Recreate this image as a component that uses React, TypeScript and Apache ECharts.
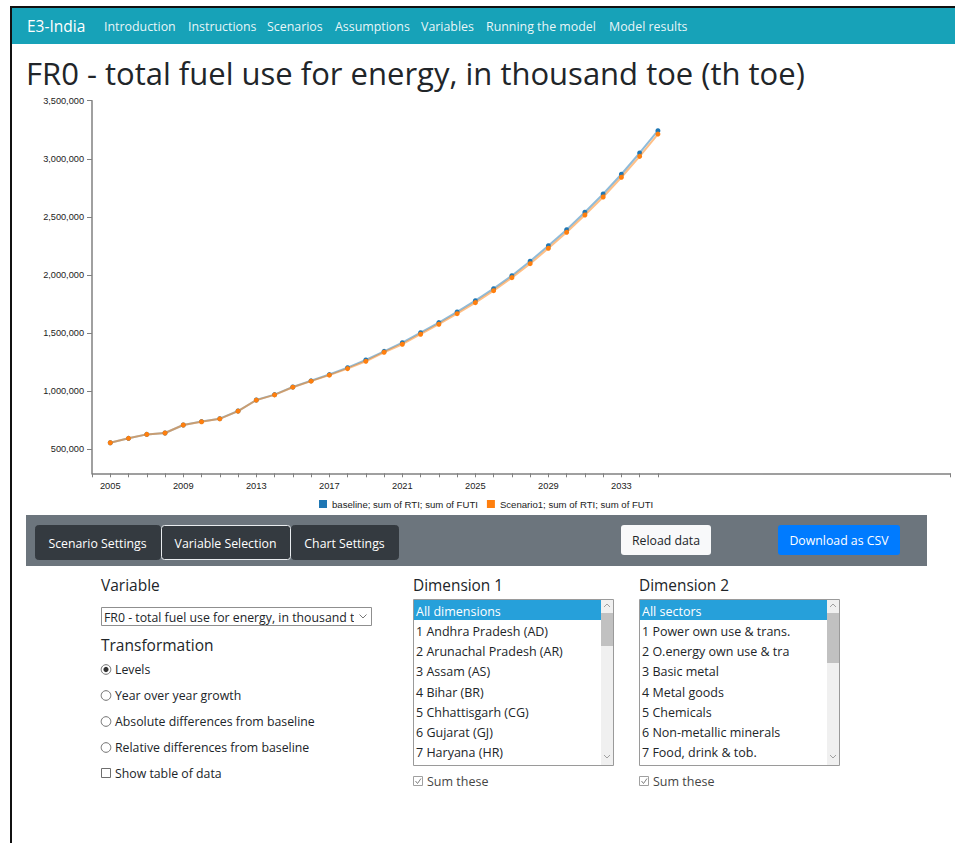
import React, { useEffect, useRef } from "react";
import * as echarts from "echarts";

// ---------- data ----------
const years = [
  2005, 2006, 2007, 2008, 2009, 2010, 2011, 2012, 2013, 2014, 2015, 2016,
  2017, 2018, 2019, 2020, 2021, 2022, 2023, 2024, 2025, 2026, 2027, 2028,
  2029, 2030, 2031, 2032, 2033, 2034, 2035,
];
const baseline = [
  556000, 594000, 628000, 640000, 709000, 738000, 763000, 829000, 924000,
  970000, 1036000, 1089000, 1143000, 1202000, 1268000, 1343000, 1417000,
  1503000, 1590000, 1682000, 1779000, 1882000, 1994000, 2118000, 2252000,
  2390000, 2540000, 2697000, 2867000, 3050000, 3242000,
];
const scenario1 = [
  556000, 594000, 628000, 640000, 709000, 737000, 762000, 828000, 923000,
  968000, 1034000, 1086000, 1138000, 1194000, 1257000, 1335000, 1404000,
  1490000, 1576000, 1667000, 1762000, 1865000, 1977000, 2097000, 2230000,
  2367000, 2516000, 2671000, 2841000, 3021000, 3213000,
];
const seriesNames = [
  "baseline; sum of RTI; sum of FUTI",
  "Scenario1; sum of RTI; sum of FUTI",
];
const yTickValues = [500000, 1000000, 1500000, 2000000, 2500000, 3000000, 3500000];
const xLabelYears = [2005, 2009, 2013, 2017, 2021, 2025, 2029, 2033];
const xTickYears = [
  2004, 2005, 2006, 2007, 2008, 2009, 2010, 2011, 2012, 2013, 2014, 2015,
  2016, 2017, 2018, 2019, 2020, 2021, 2022, 2023, 2024, 2025, 2026, 2027,
  2028, 2029, 2030, 2031, 2032, 2033, 2034, 2035, 2051,
];

const pageTitle = "FR0 - total fuel use for energy, in thousand toe (th toe)";
const brand = "E3-India";
const navLinks = [
  "Introduction", "Instructions", "Scenarios", "Assumptions", "Variables",
  "Running the model", "Model results",
];
const tabs = ["Scenario Settings", "Variable Selection", "Chart Settings"];
const transformations = [
  "Levels", "Year over year growth", "Absolute differences from baseline",
  "Relative differences from baseline",
];
const dimension1 = [
  "All dimensions", "1 Andhra Pradesh (AD)", "2 Arunachal Pradesh (AR)",
  "3 Assam (AS)", "4 Bihar (BR)", "5 Chhattisgarh (CG)", "6 Gujarat (GJ)",
  "7 Haryana (HR)",
];
const dimension2 = [
  "All sectors", "1 Power own use & trans.", "2 O.energy own use & tra",
  "3 Basic metal", "4 Metal goods", "5 Chemicals", "6 Non-metallic minerals",
  "7 Food, drink & tob.",
];

// ---------- layout helpers ----------
const UI = "'Open Sans', 'Noto Sans', sans-serif";
const DARK = "#212529";

function txt(x: number, y: number, text: string, size: number, fill: string, extra: any = {}) {
  return {
    type: "text",
    x,
    y,
    silent: true,
    style: {
      text,
      fontSize: size,
      fontFamily: UI,
      fill,
      textVerticalAlign: "middle",
      textAlign: "left",
      ...extra,
    },
  };
}

function listBox(x: number, items: string[], thumbH: number) {
  const top = 599;
  const w = 200;
  const h = 166;
  const els: any[] = [];
  els.push({ type: "rect", shape: { x: x + 0.5, y: top + 0.5, width: w, height: h }, style: { fill: "#fff", stroke: "#9a9a9a", lineWidth: 1 } });
  els.push({ type: "rect", shape: { x: x + 1, y: top + 1, width: 187, height: 20 }, style: { fill: "#26a0da" } });
  items.forEach((it, i) => {
    els.push(txt(x + 3, 611 + i * 20.25, it, 12.5, i === 0 ? "#fff" : DARK));
  });
  // scrollbar
  els.push({ type: "rect", shape: { x: x + 188, y: top + 1, width: 12, height: h - 1 }, style: { fill: "#f0f0f0" } });
  els.push({ type: "rect", shape: { x: x + 188, y: 613, width: 12, height: thumbH }, style: { fill: "#c1c1c1" } });
  els.push({ type: "polyline", shape: { points: [[x + 191, 607], [x + 194, 604], [x + 197, 607]] }, style: { stroke: "#a0a0a0", lineWidth: 1, fill: null } });
  els.push({ type: "polyline", shape: { points: [[x + 191, 755], [x + 194, 758], [x + 197, 755]] }, style: { stroke: "#a0a0a0", lineWidth: 1, fill: null } });
  // sum these
  els.push({ type: "rect", shape: { x: x + 0.5, y: 776.5, width: 9, height: 9 }, style: { fill: "#fff", stroke: "#a0a0a0", lineWidth: 1 } });
  els.push({ type: "polyline", shape: { points: [[x + 2.5, 781], [x + 4.5, 783.5], [x + 8, 778.5]] }, style: { stroke: "#808080", lineWidth: 1, fill: null } });
  els.push(txt(x + 14, 781.5, "Sum these", 12.5, "#454545"));
  return els;
}

export default function App() {
  const ref = useRef<HTMLDivElement>(null);

  useEffect(() => {
    if (!ref.current) return;
    const chart = echarts.init(ref.current, undefined, { renderer: "svg" });

    const navX = [104, 188, 267, 335, 421, 486, 609];
    const tabRects = [
      { x: 35, w: 125 },
      { x: 161, w: 129 },
      { x: 291, w: 107 },
    ];

    const graphics: any[] = [];
    // frame
    graphics.push({ type: "line", shape: { x1: 10, y1: 7, x2: 955, y2: 7 }, style: { stroke: "#111", lineWidth: 2 } });
    graphics.push({ type: "line", shape: { x1: 11, y1: 6, x2: 11, y2: 843 }, style: { stroke: "#111", lineWidth: 2 } });
    // nav bar
    graphics.push({ type: "rect", shape: { x: 12, y: 8, width: 943, height: 36 }, style: { fill: "#17a2b8" } });
    graphics.push(txt(27, 26, brand, 15.5, "#fff"));
    navLinks.forEach((n, i) => graphics.push(txt(navX[i], 26, n, 12.4, "rgba(255,255,255,0.92)")));
    // title
    graphics.push(txt(26, 72.5, pageTitle, 31, DARK));
    // settings panel
    graphics.push({ type: "rect", shape: { x: 26, y: 515, width: 901, height: 51 }, style: { fill: "#6c757d" } });
    tabs.forEach((t, i) => {
      const r = tabRects[i];
      graphics.push({
        type: "rect",
        shape: { x: r.x + 0.5, y: 525.5, width: r.w, height: 34, r: 3 },
        style: { fill: "#343a40", stroke: i === 1 ? "#e9ecef" : "#343a40", lineWidth: 1 },
      });
      graphics.push(txt(r.x + r.w / 2, 543, t, 12.3, "#fff", { textAlign: "center" }));
    });
    graphics.push({ type: "rect", shape: { x: 621, y: 525, width: 90, height: 30, r: 3 }, style: { fill: "#f8f9fa" } });
    graphics.push(txt(666, 540.5, "Reload data", 12.3, DARK, { textAlign: "center" }));
    graphics.push({ type: "rect", shape: { x: 778, y: 525, width: 122, height: 30, r: 3 }, style: { fill: "#007bff" } });
    graphics.push(txt(839, 540.5, "Download as CSV", 12.3, "#fff", { textAlign: "center" }));

    // variable column
    graphics.push(txt(101, 585, "Variable", 15.5, DARK));
    graphics.push({ type: "rect", shape: { x: 101.5, y: 607.5, width: 270, height: 18 }, style: { fill: "#fff", stroke: "#8f8f8f", lineWidth: 1 } });
    graphics.push(txt(104, 617, "FR0 - total fuel use for energy, in thousand t", 12.3, DARK));
    graphics.push({ type: "rect", shape: { x: 354, y: 609, width: 17, height: 15 }, style: { fill: "#fff" } });
    graphics.push({ type: "polyline", shape: { points: [[359.5, 614.5], [363, 618], [366.5, 614.5]] }, style: { stroke: "#777", lineWidth: 1, fill: null } });
    graphics.push(txt(101, 645, "Transformation", 15.5, DARK));
    transformations.forEach((t, i) => {
      const cy = 669.5 + i * 26;
      graphics.push({ type: "circle", shape: { cx: 106, cy, r: 4.8 }, style: { fill: "#fff", stroke: "#6e6e6e", lineWidth: 1 } });
      if (i === 0) graphics.push({ type: "circle", shape: { cx: 106, cy, r: 2.6 }, style: { fill: "#333" } });
      graphics.push(txt(115, cy, t, 12.3, DARK));
    });
    graphics.push({ type: "rect", shape: { x: 101.5, y: 768.5, width: 9, height: 9 }, style: { fill: "#fff", stroke: "#6e6e6e", lineWidth: 1 } });
    graphics.push(txt(115, 773.5, "Show table of data", 12.3, DARK));

    // dimension columns
    graphics.push(txt(413, 585, "Dimension 1", 15.4, DARK));
    graphics.push(...listBox(413, dimension1, 33));
    graphics.push(txt(639, 585, "Dimension 2", 15.4, DARK));
    graphics.push(...listBox(639, dimension2, 50));

    const axisFont = { fontFamily: "'Liberation Sans', Arial, sans-serif", fontSize: 9, color: "#222" };
    const axisLine = { show: true, lineStyle: { color: "#808080", width: 1.5 } };

    chart.setOption({
      animation: false,
      backgroundColor: "#fff",
      grid: { left: 92, top: 100.7, width: 858, height: 372.6, containLabel: false },
      legend: {
        left: 314,
        top: 494,
        itemWidth: 8,
        itemHeight: 8,
        itemGap: 9,
        icon: "rect",
        textStyle: { ...axisFont, fontSize: 9.6, color: "#222" },
        data: seriesNames,
      },
      xAxis: {
        type: "value",
        min: 2004,
        max: 2051,
        splitLine: { show: false },
        axisLine,
        axisTick: { show: true, length: 4, customValues: xTickYears, lineStyle: { color: "#808080", width: 1 } },
        axisLabel: { ...axisFont, fontSize: 9.3, margin: 8, customValues: xLabelYears, formatter: (v: number) => String(v) },
      },
      yAxis: {
        type: "value",
        min: 293000,
        max: 3500000,
        splitLine: { show: false },
        axisLine,
        axisTick: { show: true, length: 5, customValues: yTickValues, lineStyle: { color: "#808080", width: 1 } },
        axisLabel: {
          ...axisFont,
          fontSize: 9.2,
          margin: 8,
          customValues: yTickValues,
          formatter: (v: number) => v.toLocaleString("en-US"),
        },
      },
      series: [
        {
          name: seriesNames[0],
          type: "line",
          data: years.map((y, i) => [y, baseline[i]]),
          symbol: "circle",
          symbolSize: 5,
          itemStyle: { color: "#1f77b4" },
          lineStyle: { color: "#1f77b4", width: 2, opacity: 0.5 },
          z: 2,
        },
        {
          name: seriesNames[1],
          type: "line",
          data: years.map((y, i) => [y, scenario1[i]]),
          symbol: "circle",
          symbolSize: 5,
          itemStyle: { color: "#ff7f0e" },
          lineStyle: { color: "#ff7f0e", width: 2, opacity: 0.5 },
          z: 3,
        },
      ],
      graphic: { elements: graphics },
    });

    return () => chart.dispose();
  }, []);

  return (
    <div
      ref={ref}
      style={{ position: "fixed", left: 0, top: 0, width: 955, height: 843, background: "#fff" }}
    />
  );
}
